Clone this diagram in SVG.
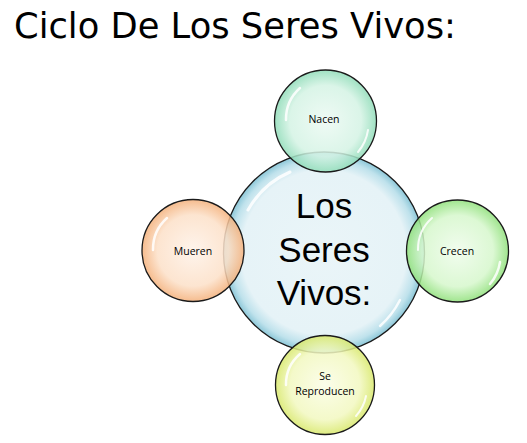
<svg xmlns="http://www.w3.org/2000/svg" width="527" height="443" viewBox="0 0 527 443">
  <style>
    .title { font-family: "DejaVu Sans", "Liberation Sans", sans-serif; font-size: 36px; fill: #000; }
    .big { font-family: "Liberation Sans", "Open Sans", sans-serif; font-size: 35px; fill: #000; text-anchor: middle; }
    .small { font-family: "Open Sans", "Liberation Sans", sans-serif; font-size: 10.5px; fill: #000; text-anchor: middle; }
    .ring { stroke: #1a1a1a; stroke-width: 1.3; }
    .gloss { fill: none; stroke: #ffffff; stroke-linecap: round; opacity: 0.85; }
  </style>
  <defs>
    <radialGradient id="gBlue" cx="50%" cy="50%" r="50%">
      <stop offset="0" stop-color="#eaf5f8"/>
      <stop offset="0.82" stop-color="#e6f3f7"/>
      <stop offset="0.93" stop-color="#bfe2ec"/>
      <stop offset="1" stop-color="#8cc7d8"/>
    </radialGradient>
    <radialGradient id="gTeal" cx="50%" cy="50%" r="50%">
      <stop offset="0" stop-color="#eefaf4" stop-opacity="0.9"/>
      <stop offset="0.7" stop-color="#d4f3e4" stop-opacity="0.85"/>
      <stop offset="1" stop-color="#8fdcb8" stop-opacity="0.85"/>
    </radialGradient>
    <radialGradient id="gOrange" cx="50%" cy="50%" r="50%">
      <stop offset="0" stop-color="#fef3ea" stop-opacity="0.9"/>
      <stop offset="0.7" stop-color="#fce0c8" stop-opacity="0.85"/>
      <stop offset="1" stop-color="#f4b07a" stop-opacity="0.85"/>
    </radialGradient>
    <radialGradient id="gGreen" cx="50%" cy="50%" r="50%">
      <stop offset="0" stop-color="#f0fced" stop-opacity="0.9"/>
      <stop offset="0.7" stop-color="#d6f7cc" stop-opacity="0.85"/>
      <stop offset="1" stop-color="#8fe07a" stop-opacity="0.85"/>
    </radialGradient>
    <radialGradient id="gYellow" cx="50%" cy="50%" r="50%">
      <stop offset="0" stop-color="#fbfde8" stop-opacity="0.9"/>
      <stop offset="0.7" stop-color="#f2f8c0" stop-opacity="0.85"/>
      <stop offset="1" stop-color="#d8e86a" stop-opacity="0.85"/>
    </radialGradient>
  </defs>

  <text class="title" x="14" y="38" textLength="442" lengthAdjust="spacingAndGlyphs">Ciclo De Los Seres Vivos:</text>

  <g id="connectors"></g>

  <g id="center">
    <circle class="ring" cx="324" cy="252.5" r="100.5" fill="url(#gBlue)"/>
    <path class="gloss" d="M 248 210 A 88 88 0 0 1 290 172" stroke-width="3"/>
    <path class="gloss" d="M 400 300 A 88 88 0 0 1 380 326" stroke-width="2.5"/>
    <text class="big" x="324" y="218">Los</text>
    <text class="big" x="324" y="262">Seres</text>
    <text class="big" x="324" y="305">Vivos:</text>
  </g>

  <g id="nacen">
    <circle class="ring" cx="325.5" cy="121" r="51" fill="url(#gTeal)"/>
    <path class="gloss" d="M 286 120 A 42 42 0 0 1 300 88" stroke-width="2.5"/>
    <path class="gloss" d="M 368 130 A 44 44 0 0 1 358 152" stroke-width="2"/>
    <text class="small" x="324" y="123">Nacen</text>
  </g>

  <g id="mueren">
    <circle class="ring" cx="193" cy="250.5" r="51" fill="url(#gOrange)"/>
    <path class="gloss" d="M 153 250 A 42 42 0 0 1 167 218" stroke-width="2.5"/>
    <text class="small" x="193" y="255">Mueren</text>
  </g>

  <g id="crecen">
    <circle class="ring" cx="457.5" cy="251" r="51" fill="url(#gGreen)"/>
    <path class="gloss" d="M 500 262 A 44 44 0 0 1 490 284" stroke-width="2.5"/>
    <path class="gloss" d="M 418 250 A 42 42 0 0 1 432 218" stroke-width="2"/>
    <text class="small" x="457" y="255">Crecen</text>
  </g>

  <g id="sereproducen">
    <circle class="ring" cx="325" cy="385" r="49.5" fill="url(#gYellow)"/>
    <path class="gloss" d="M 286 385 A 40 40 0 0 1 300 354" stroke-width="2.5"/>
    <path class="gloss" d="M 366 396 A 42 42 0 0 1 356 416" stroke-width="2"/>
    <text class="small" x="325" y="380">Se</text>
    <text class="small" x="325" y="395">Reproducen</text>
  </g>
</svg>
